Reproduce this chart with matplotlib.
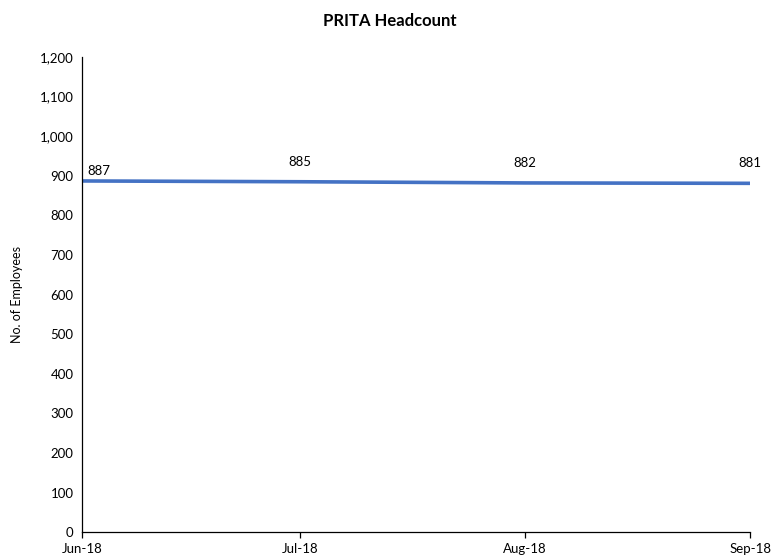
import pandas as pd
import matplotlib
matplotlib.use("Agg")
import matplotlib.pyplot as plt
from matplotlib.ticker import FuncFormatter

plt.rcParams['font.family'] = ['Lato', 'DejaVu Sans']

months = ["2018-06-01", "2018-07-01", "2018-08-01", "2018-09-01"]
headcount = [887, 885, 882, 881]
month_labels = ["Jun-18", "Jul-18", "Aug-18", "Sep-18"]

dates = pd.to_datetime(months)

fig = plt.figure(figsize=(7.8, 5.59), dpi=100)
ax = fig.add_axes([0.105, 0.048, 0.857, 0.850])

ax.plot(dates, headcount, color="#4472C4", linewidth=2.6, solid_capstyle="butt")

# data labels
for i, (d, v) in enumerate(zip(dates, headcount)):
    if i == 0:
        ax.annotate(str(v), (d, v), xytext=(4, 3), textcoords="offset points",
                    ha="left", va="bottom", fontsize=9.5, color="#000000")
    else:
        ax.annotate(str(v), (d, v), xytext=(0, 10), textcoords="offset points",
                    ha="center", va="bottom", fontsize=9.5, color="#000000")

ax.set_ylim(0, 1200)
ax.set_yticks(range(0, 1201, 100))
ax.yaxis.set_major_formatter(FuncFormatter(lambda v, p: f"{int(v):,}"))
ax.set_xlim(dates[0], dates[-1])
ax.set_xticks(dates)
ax.set_xticklabels(month_labels)

for s in ["top", "right"]:
    ax.spines[s].set_visible(False)
ax.spines["left"].set_color("#000000")
ax.spines["bottom"].set_color("#000000")
ax.spines["left"].set_linewidth(0.9)
ax.spines["bottom"].set_linewidth(0.9)

ax.tick_params(axis="y", length=0, labelsize=9.5, pad=6)
ax.tick_params(axis="x", length=4, width=0.9, direction="out", labelsize=9.5, pad=4)

ax.set_ylabel("No. of Employees", fontsize=9, labelpad=12)
fig.text(0.5, 0.962, "PRITA Headcount", ha="center", va="center",
         fontsize=12, fontweight="bold")

fig.savefig("out.png", dpi=100)
